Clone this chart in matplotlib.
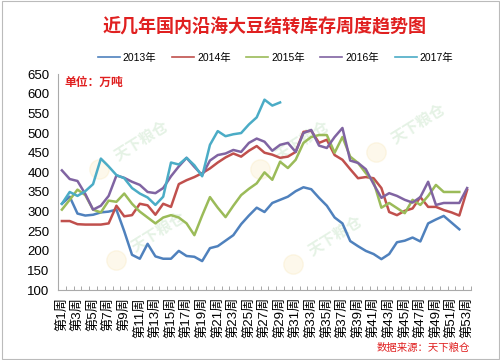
import numpy as np
import matplotlib.pyplot as plt

plt.rcParams['font.family'] = ['Liberation Sans', 'Noto Sans CJK SC']

# --- DATA (万吨, by week) ---
weeks = list(range(1, 54))
y2013 = [320, 338, 295, 290, 292, 298, 300, 305, 250, 190, 180, 218, 186, 180, 180, 200,
         187, 185, 174, 207, 212, 226, 240, 268, 290, 310, 299, 322, 330, 338, 352, 362,
         357, 335, 315, 285, 270, 225, 212, 200, 192, 179, 192, 222, 226, 234, 224, 270,
         280, 289, 272, 255]
y2014 = [276, 276, 268, 267, 267, 267, 270, 315, 288, 291, 320, 316, 292, 320, 312, 370,
         380, 388, 398, 410, 425, 438, 448, 440, 455, 467, 450, 445, 437, 440, 452, 503,
         506, 475, 483, 444, 432, 408, 385, 388, 385, 360, 299, 291, 302, 308, 337, 312,
         312, 304, 298, 290, 355]
y2015 = [305, 330, 356, 342, 305, 298, 328, 325, 346, 320, 300, 285, 270, 285, 291, 285,
         270, 240, 290, 337, 310, 286, 315, 342, 358, 372, 400, 381, 427, 411, 432, 475,
         490, 495, 495, 450, 490, 440, 424, 398, 376, 310, 322, 309, 296, 330, 317, 340,
         368, 350, 350, 350]
y2016 = [405, 383, 378, 345, 305, 315, 340, 392, 386, 376, 368, 350, 347, 360, 390, 415,
         437, 414, 393, 430, 444, 448, 457, 452, 475, 486, 478, 455, 470, 475, 452, 500,
         508, 468, 462, 490, 513, 430, 424, 408, 370, 335, 347, 340, 330, 323, 337, 376,
         317, 322, 322, 322, 360]
y2017 = [320, 350, 340, 352, 370, 435, 415, 393, 385, 360, 346, 336, 317, 338, 425, 420,
         437, 418, 390, 470, 505, 492, 497, 500, 522, 540, 585, 570, 578]

years = ['2013年', '2014年', '2015年', '2016年', '2017年']
colors = ['#4F81BD', '#C0504D', '#9BBB59', '#8064A2', '#4BACC6']
series = [y2013, y2014, y2015, y2016, y2017]
week_labels = [f'第{w}周' for w in weeks[::2]]

fig = plt.figure(figsize=(5, 3.6), dpi=100)
ax = fig.add_axes([0.116, 0.194, 0.826, 0.6])

# faint watermarks
for (x, y) in [(0.13, 0.60), (0.17, 0.18), (0.52, 0.60), (0.60, 0.16), (0.80, 0.68)]:
    ax.text(x, y, '天下粮仓', transform=ax.transAxes, rotation=32, fontsize=11,
            color='#7cc07c', alpha=0.2, fontweight='bold', zorder=0)
    ax.plot(x - 0.03, y - 0.04, 'o', ms=14, color='#f3d27a', alpha=0.15,
            transform=ax.transAxes, zorder=0)

for vals, c, lab in zip(series, colors, years):
    ax.plot(weeks[:len(vals)], vals, color=c, lw=1.8, label=lab, zorder=2)

ax.set_xlim(0.5, 53.5)
ax.set_ylim(100, 650)
ax.set_yticks(range(100, 651, 50))
ax.set_xticks(weeks[::2])
ax.set_xticklabels(week_labels, rotation=90, fontsize=9.5)
ax.set_xticks(np.arange(0.5, 54, 1), minor=True)
ax.tick_params(axis='x', which='major', length=0, pad=5)
ax.tick_params(axis='x', which='minor', direction='in', length=3, color='#999999')
ax.tick_params(axis='y', length=0, labelsize=9.5, pad=6)

for s in ['top', 'right']:
    ax.spines[s].set_visible(False)
for s in ['left', 'bottom']:
    ax.spines[s].set_color('#aaaaaa')

ax.text(0.015, 0.985, '单位：万吨', transform=ax.transAxes, color='#E02020',
        fontsize=8.5, fontweight='bold', va='top')

fig.text(0.53, 0.925, '近几年国内沿海大豆结转库存周度趋势图', ha='center', va='center',
         color='#E02020', fontsize=13, fontweight='bold')
fig.legend(loc='center', bbox_to_anchor=(0.551, 0.84), ncol=5, frameon=False,
           handlelength=2.1, handletextpad=0.3, columnspacing=1.5,
           prop={'size': 7.5})
for l in fig.legends[0].get_lines():
    l.set_linewidth(1.2)

fig.text(0.94, 0.035, '数据来源：天下粮仓', ha='right', va='center', color='#E02020',
         fontsize=7.5, style='italic')

# chart border
fig.patches.append(plt.Rectangle((0.003, 0.004), 0.994, 0.992, transform=fig.transFigure,
                                 fill=False, edgecolor='#bbbbbb', lw=0.8))

fig.savefig('out.png', dpi=100)
